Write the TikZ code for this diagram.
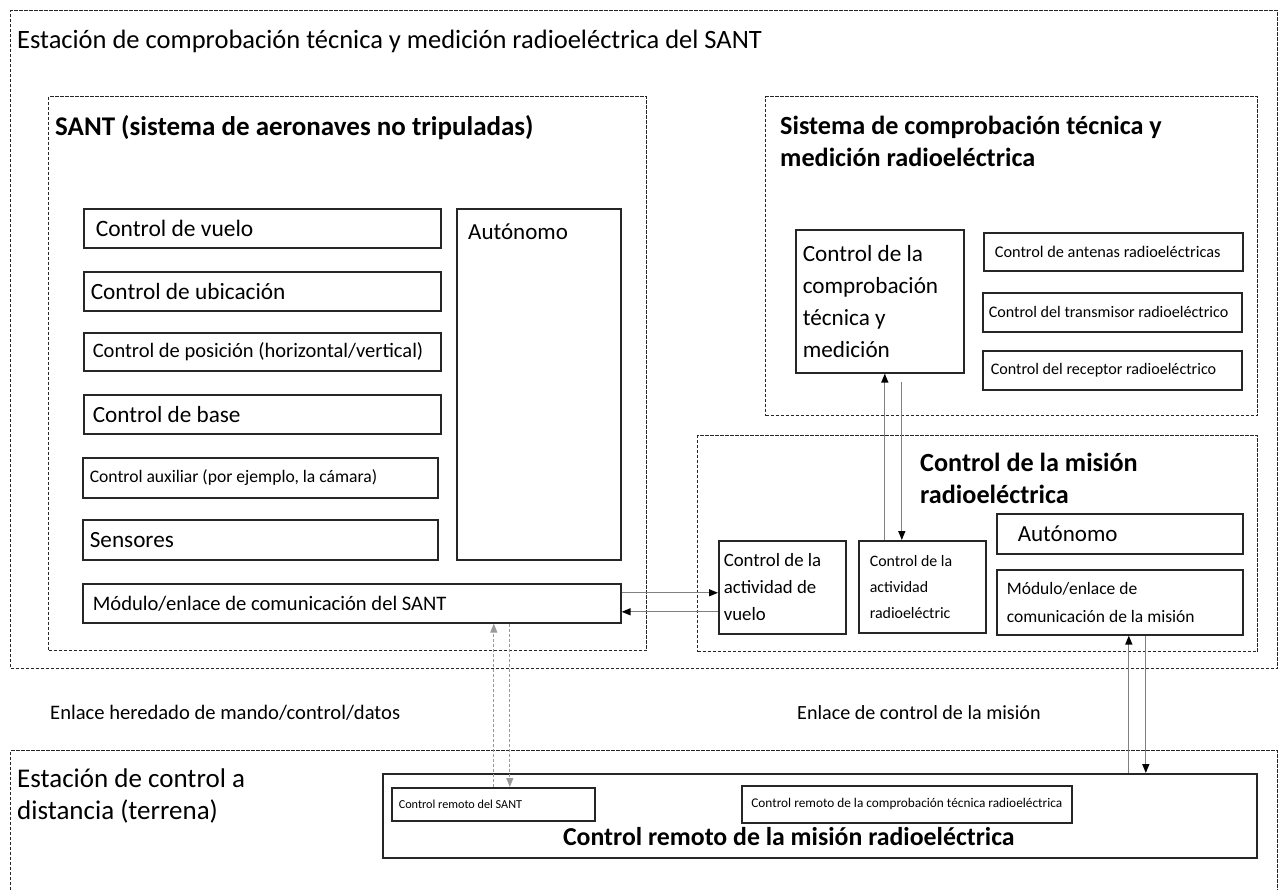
\documentclass[tikz,border=0pt]{standalone}
\usepackage{fontspec}
\setmainfont{Carlito}
\usetikzlibrary{arrows.meta}
\newcommand\fs[2]{\fontsize{#1}{#2}\selectfont}
\begin{document}
\begin{tikzpicture}[x=1pt,y=-1pt,
 box/.style={draw=black!85, line width=1.6pt, anchor=north west, inner ysep=0pt, align=flush left},
 dbox/.style={draw=black!85, line width=1.1pt, dash pattern=on 3.5pt off 1.5pt, anchor=north west, inner sep=0pt},
 ttl/.style={anchor=west, inner sep=0pt, align=flush left},
 garr/.style={draw=black!50, line width=1.3pt, -{Triangle[length=9pt,width=7pt,color=black]}},
 darr/.style={draw=black!40, line width=0.8pt, dash pattern=on 3pt off 2pt, -{Triangle[length=9pt,width=7pt]}},
]
\useasboundingbox (0,0) rectangle (1281,890);

% outer station
\node[dbox, minimum width=1267pt, minimum height=658pt] (station) at (10,10) {};
\node[ttl, font=\fs{26.5}{32}] (stationT) at (17,41) {Estación de comprobación técnica y medición radioeléctrica del SANT};

% SANT
\node[dbox, minimum width=598pt, minimum height=554pt] (sant) at (48,96) {};
\node[ttl, font=\bfseries\fs{27}{32}] (santT) at (55,128) {SANT (sistema de aeronaves no tripuladas)};

\node[box, minimum width=357pt, minimum height=39pt, inner xsep=12pt, text width=333pt, font=\fs{23.5}{26}] (cv) at (83,208) {Control de vuelo};
\node[box, minimum width=357pt, minimum height=39pt, inner xsep=7pt, text width=343pt, font=\fs{23.3}{26}] (cu) at (83,271) {Control de ubicación};
\node[box, minimum width=357pt, minimum height=38pt, inner xsep=9pt, text width=339pt, font=\fs{20.5}{24}] (cp) at (83,332) {Control de posición (horizontal/vertical)};
\node[box, minimum width=357pt, minimum height=39pt, inner xsep=9pt, text width=339pt, font=\fs{23.2}{26}] (cb) at (83,394) {Control de base};
\node[box, minimum width=355pt, minimum height=40pt, inner xsep=7pt, text width=341pt, font=\fs{17.6}{21}] (ca) at (82,457) {Control auxiliar (por ejemplo, la cámara)};
\node[box, minimum width=355pt, minimum height=40pt, inner xsep=7pt, text width=341pt, font=\fs{23.2}{26}] (se) at (82,519) {Sensores};
\node[box, minimum width=164pt, minimum height=351pt, label={[anchor=north west, inner sep=0pt, xshift=12pt, yshift=-16pt, font=\fs{23}{26}]north west:Autónomo}] (au) at (456,208) {};
\node[box, minimum width=538pt, minimum height=39pt, inner xsep=10pt, text width=518pt, font=\fs{20.6}{24}] (ms) at (82,583) {Módulo/enlace de comunicación del SANT};

% monitoring system
\node[dbox, minimum width=492pt, minimum height=319pt] (sys) at (765,96) {};
\node[ttl, font=\bfseries\fs{26.2}{32}] (sysT) at (780,141) {Sistema de comprobación técnica y\\medición radioeléctrica};
\node[box, minimum width=168pt, minimum height=143pt, inner xsep=7pt, text width=154pt, font=\fs{23.2}{32}] (cc) at (795,229) {Control de la\\comprobación\\técnica y\\medición};
\node[box, minimum width=259pt, minimum height=38pt, inner xsep=11pt, text width=237pt, font=\fs{16.3}{19}] (an) at (983,232) {Control de antenas radioeléctricas};
\node[box, minimum width=259pt, minimum height=39pt, inner xsep=6pt, text width=247pt, font=\fs{16.1}{19}] (tr) at (982,292) {Control del transmisor radioeléctrico};
\node[box, minimum width=259pt, minimum height=39pt, inner xsep=8pt, text width=243pt, font=\fs{16.1}{19}] (rc) at (982,350) {Control del receptor radioeléctrico};

% mission control
\node[dbox, minimum width=560pt, minimum height=216pt] (mis) at (697,435) {};
\node[ttl, font=\bfseries\fs{26.2}{32}] (misT) at (920,478) {Control de la misión\\radioeléctrica};
\node[box, minimum width=246pt, minimum height=40pt, inner xsep=21pt, text width=204pt, font=\fs{23}{26}] (am) at (996,513) {Autónomo};
\node[box, minimum width=246pt, minimum height=65pt, inner xsep=10pt, text width=226pt, font=\fs{17.5}{28}] (mm) at (996,569) {Módulo/enlace de\\comunicación de la misión};
\node[box, minimum width=127pt, minimum height=93pt, inner xsep=5pt, text width=117pt, font=\fs{18.8}{27}] (av) at (718,540) {Control de la\\actividad de\\vuelo};
\node[box, minimum width=127pt, minimum height=92pt, inner xsep=11pt, text width=105pt, font=\fs{15.9}{26}] (ar) at (858,540) {Control de la\\actividad\\radioeléctric};

% link labels
\node[ttl, font=\fs{20.6}{25}] (lnk1) at (50,713) {Enlace heredado de mando/control/datos};
\node[ttl, font=\fs{20.1}{25}] (lnk2) at (797,713) {Enlace de control de la misión};

% ground station
\node[dbox, minimum width=1267pt, minimum height=170pt] (gs) at (10,750) {};
\node[ttl, font=\fs{27}{32}] (gsT) at (17,796) {Estación de control a\\distancia (terrena)};
\node[box, minimum width=874pt, minimum height=84pt, label={[anchor=center, inner sep=0pt, xshift=-31pt, yshift=22pt, font=\bfseries\fs{25.8}{30}]south:Control remoto de la misión radioeléctrica}] (rm) at (382,773) {};
\node[box, minimum width=203pt, minimum height=33pt, inner xsep=7pt, text width=189pt, font=\fs{12.2}{15}] (rs) at (391,787) {Control remoto del SANT};
\node[box, minimum width=330pt, minimum height=37pt, inner xsep=5pt, text width=320pt, align=flush center, font=\fs{13.3}{16}] (rt) at (741,785) {Control remoto de la comprobación técnica radioeléctrica};

% connectors
\draw[garr] ([yshift=10.5pt]ms.east) -- ([yshift=10.5pt]ms.east -| av.west);
\draw[garr] ([yshift=-8.5pt]ms.east -| av.west) -- ([yshift=-8.5pt]ms.east);
\draw[garr] ([xshift=-37.5pt]ar.north) -- ([xshift=-37.5pt]ar.north |- cc.south);
\draw[garr] ([xshift=-20.5pt,yshift=-8pt]ar.north |- cc.south) -- ([xshift=-20.5pt]ar.north);
\draw[garr] ([xshift=9pt]mm.south |- rm.north) -- ([xshift=9pt]mm.south);
\draw[garr] ([xshift=26pt]mm.south) -- ([xshift=26pt]mm.south |- rm.north);
\draw[darr] ([xshift=142pt]ms.south |- rs.north) -- ([xshift=142pt]ms.south);
\draw[darr] ([xshift=158pt]ms.south) -- ([xshift=158pt]ms.south |- rs.north);
\end{tikzpicture}
\end{document}
